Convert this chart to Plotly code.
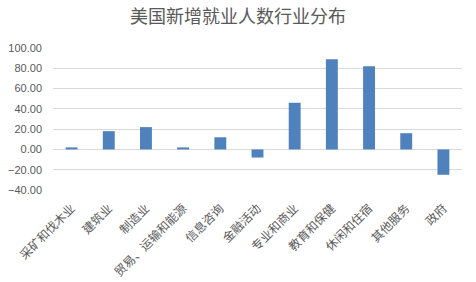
import plotly.graph_objects as go

categories = ["采矿和伐木业", "建筑业", "制造业", "贸易、运输和能源", "信息咨询", "金融活动",
              "专业和商业", "教育和保健", "休闲和住宿", "其他服务", "政府"]
values = [2, 18, 22, 2, 12, -8, 46, 89, 82, 16, -25]
y_ticks = [-40, -20, 0, 20, 40, 60, 80, 100]

fig = go.Figure(go.Bar(x=categories, y=values, marker_color="#4f81bd", marker_line_width=0))

font_main = "Noto Sans CJK SC, sans-serif"
fig.update_layout(
    width=476, height=282,
    margin=dict(l=53, r=14, t=48, b=92),
    paper_bgcolor="white", plot_bgcolor="white",
    title=dict(text="美国新增就业人数行业分布", x=0.5, xanchor="center", y=0.94, yanchor="middle",
               font=dict(family=font_main, size=18, color="#595959")),
    bargap=0.68,
    showlegend=False,
    font=dict(family=font_main, color="#595959"),
)
fig.update_yaxes(range=[-40, 100], tickvals=y_ticks, tickformat=".2f",
                 showgrid=True, gridcolor="#d9d9d9", gridwidth=1,
                 zeroline=True, zerolinecolor="#d9d9d9", zerolinewidth=1,
                 tickfont=dict(family="Liberation Sans, Arial, sans-serif", size=11, color="#595959"),
                 ticklabelstandoff=10, automargin=False,
                 showline=False, ticks="")
fig.update_xaxes(tickangle=-45, tickfont=dict(family=font_main, size=12, color="#595959"),
                 ticklabelstandoff=8, automargin=False,
                 showline=False, ticks="")
fig.write_html("out.html")
